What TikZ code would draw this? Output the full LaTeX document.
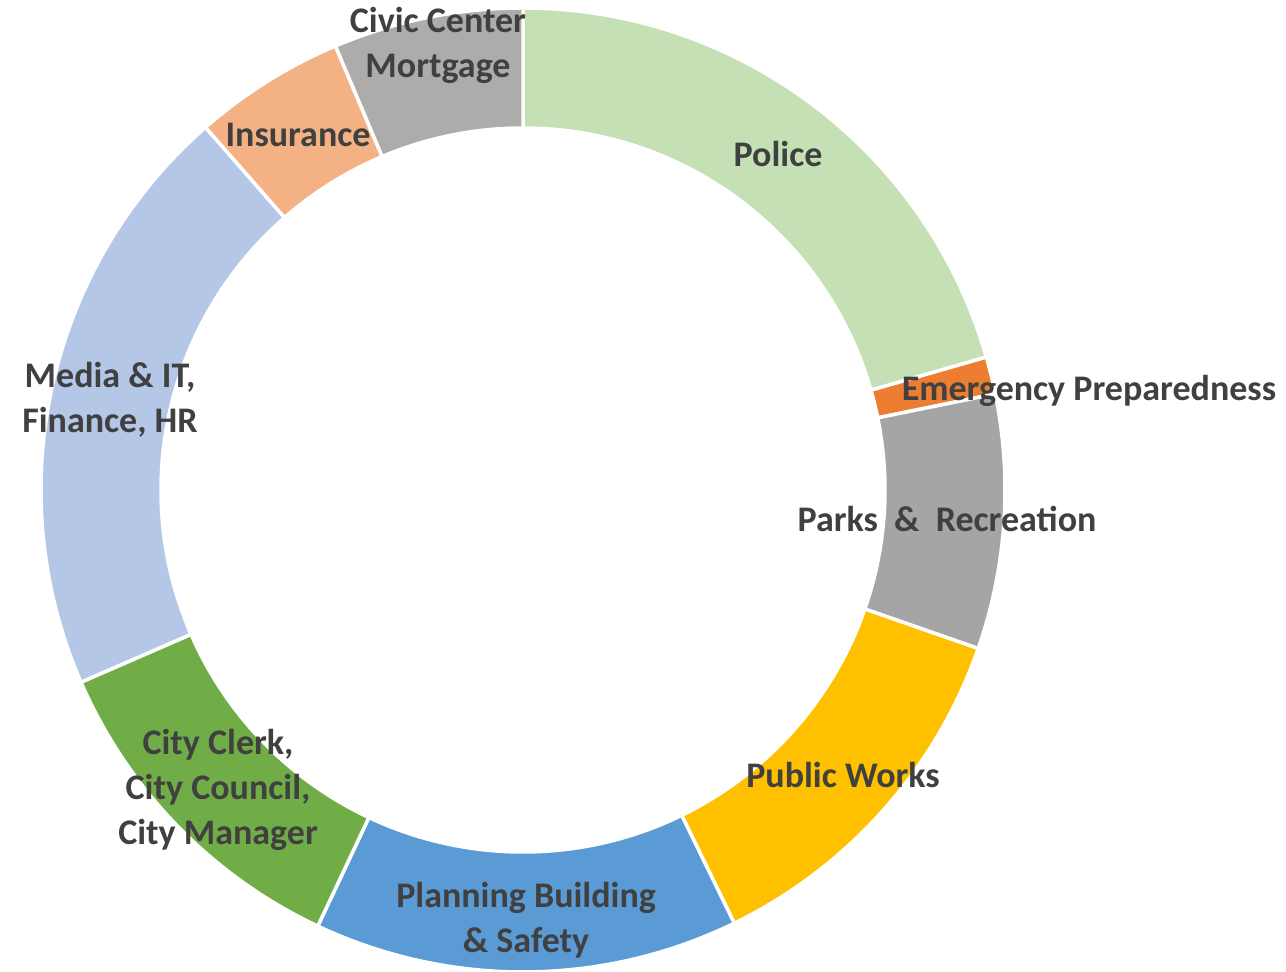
\documentclass[tikz,border=0pt]{standalone}
\usepackage{fontspec}
\setmainfont{Carlito}
\definecolor{cPolice}{HTML}{C5E0B4}
\definecolor{cEmerg}{HTML}{ED7D31}
\definecolor{cParks}{HTML}{A5A5A5}
\definecolor{cWorks}{HTML}{FFC000}
\definecolor{cPlan}{HTML}{5B9BD5}
\definecolor{cClerk}{HTML}{70AD47}
\definecolor{cMedia}{HTML}{B4C7E7}
\definecolor{cIns}{HTML}{F4B183}
\definecolor{cCivic}{HTML}{AEABAB}
\definecolor{txt}{HTML}{404040}
\begin{document}
\begin{tikzpicture}[x=1pt,y=1pt,
  seg/.style={draw=white,line width=3.5pt,line join=miter},
  lbl/.style={font=\fontsize{36}{45}\selectfont\bfseries,text=txt,align=center,inner sep=0pt}]
\useasboundingbox (0,0) rectangle (1286,972);
\def\R{482}\def\r{362}
\coordinate (c) at (523,482);
\newcommand\donutseg[3]{%
  \fill[#3] ([shift={(#1:\R)}]c) arc[start angle=#1,end angle=#2,radius=\R]
    -- ([shift={(#2:\r)}]c) arc[start angle=#2,end angle=#1,radius=\r] -- cycle;
  \draw[seg] ([shift={(#1:\R)}]c) arc[start angle=#1,end angle=#2,radius=\R]
    -- ([shift={(#2:\r)}]c) arc[start angle=#2,end angle=#1,radius=\r] -- cycle;}
\donutseg{90}{16}{cPolice}
\donutseg{16}{11.5}{cEmerg}
\donutseg{11.5}{-19.2}{cParks}
\donutseg{-19.2}{-64}{cWorks}
\donutseg{-64}{-115.2}{cPlan}
\donutseg{-115.2}{-156.5}{cClerk}
\donutseg{-156.5}{-228.8}{cMedia}
\donutseg{-228.8}{-247.1}{cIns}
\donutseg{-247.1}{-270}{cCivic}
\node[lbl] (civic) at (438,927) {Civic Center\\Mortgage};
\node[lbl] (ins) at (298,837) {Insurance};
\node[lbl] (police) at (778,818) {Police};
\node[lbl] (emerg) at (1089,581) {Emergency Preparedness};
\node[lbl] (parks) at (947,453) {Parks\ \ \&\ \ Recreation};
\node[lbl] (works) at (843,197) {Public Works};
\node[lbl] (plan) at (526,52) {Planning Building\\\& Safety};
\node[lbl] (clerk) at (218,182) {City Clerk,\\City Council,\\City Manager};
\node[lbl] (media) at (110,572) {Media \& IT,\\Finance, HR};
\end{tikzpicture}
\end{document}
